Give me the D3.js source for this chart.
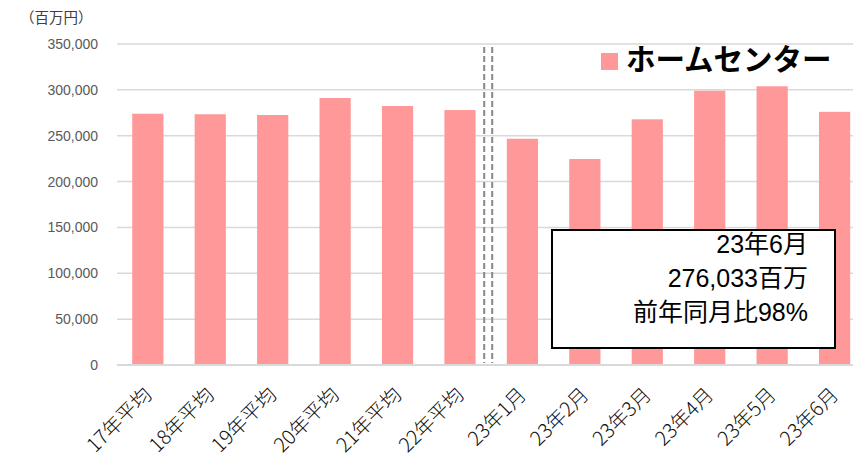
<!DOCTYPE html>
<html><head><meta charset="utf-8">
<script src="https://cdn.jsdelivr.net/npm/d3@7"></script>
<style>
html,body{margin:0;padding:0;background:#fff;overflow:hidden;}
svg{display:block;}
</style></head>
<body><svg id="chart" width="853" height="453"></svg>
<script>
const categories = ["17年平均","18年平均","19年平均","20年平均","21年平均","22年平均","23年1月","23年2月","23年3月","23年4月","23年5月","23年6月"];
const values = [274000,273400,272600,291100,282400,278000,246700,224600,267900,299100,303900,276033];
const yTicks = [0,50000,100000,150000,200000,250000,300000,350000];
const seriesName = "ホームセンター";
const unitLabel = "（百万円）";
const noteLines = ["23年6月","276,033百万","前年同月比98%"];

const svg = d3.select("#chart");
const x = d3.scaleBand().domain(categories).range([116.6, 865.8]).paddingInner(0.5).paddingOuter(0.25);
const y = d3.scaleLinear().domain([0,350000]).range([365,44]);

// gridlines
svg.append("g").selectAll("line").data(yTicks).join("line")
  .attr("x1",117).attr("x2",853)
  .attr("y1",d=>y(d)).attr("y2",d=>y(d))
  .attr("stroke","#d9d9d9").attr("stroke-width",1.5);

// y axis labels
const yAxis = d3.axisLeft(y).tickValues(yTicks).tickSize(0).tickPadding(0).tickFormat(d3.format(","));
const gy = svg.append("g").attr("transform","translate(98,0)").call(yAxis);
gy.select(".domain").remove();
gy.selectAll("text").attr("font-family","'Liberation Sans', Arial, sans-serif").attr("font-size",14).attr("fill","#595959");

svg.append("text").attr("x",20).attr("y",23).text(unitLabel)
  .attr("font-family","'Noto Sans CJK JP', sans-serif").attr("font-size",14.5).attr("fill","#404040");

// bars
svg.append("g").selectAll("rect").data(values).join("rect")
  .attr("x",(d,i)=>x(categories[i])).attr("width",x.bandwidth())
  .attr("y",d=>y(d)).attr("height",d=>y(0)-y(d))
  .attr("fill","#ff9999");

// baseline
svg.append("line").attr("x1",117).attr("x2",853).attr("y1",y(0)).attr("y2",y(0))
  .attr("stroke","#d9d9d9").attr("stroke-width",2);

// dashed separators
const sepX = (x(categories[5]) + x.bandwidth() + x(categories[6]))/2 - 3;
[-4,4].forEach(o=>{
  svg.append("line").attr("x1",sepX+o).attr("x2",sepX+o).attr("y1",47).attr("y2",363)
    .attr("stroke","#888").attr("stroke-width",2).attr("stroke-dasharray","6,3");
});

// x axis labels
const xAxis = d3.axisBottom(x).tickSize(0).tickPadding(0);
const gx = svg.append("g").attr("transform","translate(0,365)").call(xAxis);
gx.select(".domain").remove();
gx.selectAll("text")
  .attr("font-family","'Noto Sans CJK JP', sans-serif").attr("font-weight",300).attr("font-size",20).attr("fill","#111")
  .attr("text-anchor","end").attr("dy",null).attr("y",0)
  .attr("transform","translate(5,31) rotate(-45)");

// legend
svg.append("rect").attr("x",601).attr("y",53).attr("width",17).attr("height",17).attr("fill","#ff9999");
svg.append("text").attr("x",626).attr("y",70).text(seriesName)
  .attr("font-family","'Noto Sans CJK JP', sans-serif").attr("font-weight","bold").attr("font-size",29.5).attr("fill","#000");

// annotation box
svg.append("rect").attr("x",552).attr("y",230).attr("width",283).attr("height",118)
  .attr("fill","#fff").attr("stroke","#000").attr("stroke-width",2);
svg.append("g").selectAll("text").data(noteLines).join("text")
  .attr("x",808).attr("y",(d,i)=>253+i*34).attr("text-anchor","end")
  .attr("font-family","'Liberation Sans', 'Noto Sans CJK JP', sans-serif").attr("font-size",25).attr("fill","#000")
  .text(d=>d);
</script></body></html>
